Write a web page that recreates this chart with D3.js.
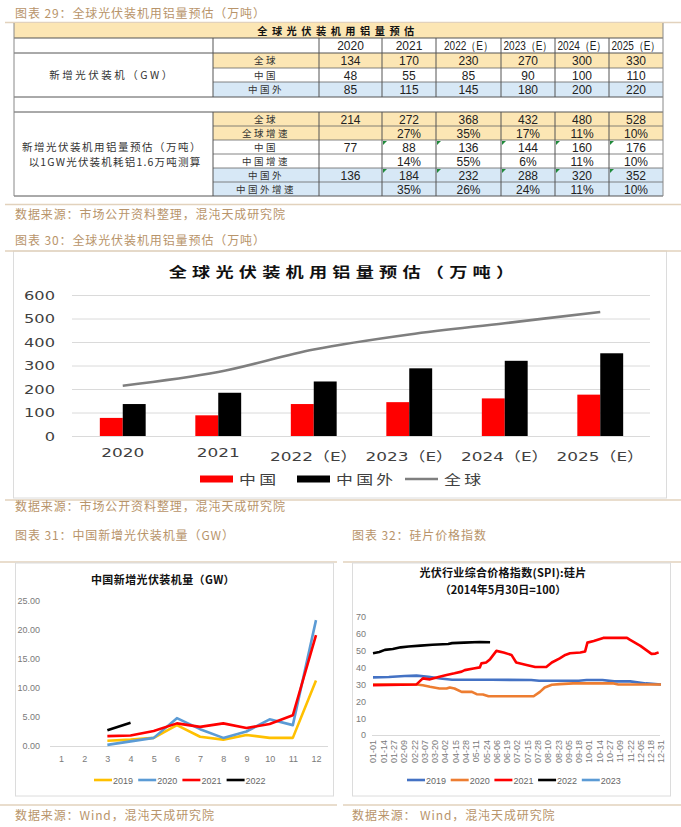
<!DOCTYPE html>
<html><head><meta charset="utf-8">
<script src="https://cdn.jsdelivr.net/npm/d3@7"></script>
<style>body{margin:0;background:#fff}svg{display:block}</style>
</head><body><svg id="c" width="681" height="827"></svg>
<script>
// ---------------- DATA ----------------
const years = ["2020","2021","2022（E）","2023（E）","2024（E）","2025（E）"];
const gwGlobal = [134,170,230,270,300,330];
const gwChina = [48,55,85,90,100,110];
const gwOutside = [85,115,145,180,200,220];
const alGlobal = [214,272,368,432,480,528];
const alGlobalGrowth = ["","27%","35%","17%","11%","10%"];
const alChina = [77,88,136,144,160,176];
const alChinaGrowth = ["","14%","55%","6%","11%","10%"];
const alOutside = [136,184,232,288,320,352];
const alOutsideGrowth = ["","35%","26%","24%","11%","10%"];
const yTicks30 = [0,100,200,300,400,500,600];

const months = [1,2,3,4,5,6,7,8,9,10,11,12];
const inst2019 = [null,null,0.9,1.1,1.4,3.6,1.6,1.1,1.9,1.4,1.4,11.3];
const inst2020 = [null,null,0.2,0.8,1.4,4.8,2.9,1.4,2.5,4.6,3.6,21.7];
const inst2021 = [null,null,1.7,1.8,2.6,3.9,3.3,3.9,3.1,3.8,5.3,19.1];
const inst2022 = [null,null,2.7,4.0,null,null,null,null,null,null,null,null];
const yTicks31 = [0,5,10,15,20,25];

const spiTickLabels = ["01-01","01-14","01-27","02-09","02-22","03-07","03-20","04-02","04-15","04-28","05-11","05-24","06-06","06-19","07-02","07-15","07-28","08-10","08-23","09-05","09-18","10-01","10-14","10-27","11-09","11-22","12-05","12-18","12-31"];
const spiTickDays = [0,13,26,39,52,65,78,91,104,117,130,143,156,169,182,195,208,221,234,247,260,273,286,299,312,325,338,351,364];
// [day of year, index]
const spi2019 = [[0,34.2],[20,34.4],[40,35],[55,35.2],[70,34.6],[85,33.5],[100,32.8],[150,32.8],[200,32.6],[210,32.2],[260,32.2],[270,32.6],[290,32.6],[305,31.8],[325,31.8],[345,30.6],[364,30]];
const spi2020 = [[0,30],[55,30],[63,29.5],[72,28.6],[84,27.6],[93,27.6],[97,28.2],[103,27.6],[112,25.6],[125,25.6],[131,24.2],[139,24],[146,23],[203,23],[211,25.6],[217,28.2],[226,29.8],[236,30.2],[253,30.6],[304,30.6],[310,30],[364,30]];
const spi2021 = [[0,29.6],[55,30],[63,33.6],[72,33],[84,34.6],[93,35.6],[103,36.6],[112,37.6],[116,38.5],[127,39.5],[135,40.1],[137,42.5],[143,43],[148,45],[156,49.9],[165,48.9],[175,47.5],[181,43],[194,41.5],[205,40.3],[219,40.3],[226,43],[236,45.5],[243,47.5],[249,48.5],[262,48.9],[268,49.5],[271,54.8],[279,55.8],[291,57.6],[321,57.6],[325,56.4],[338,52.9],[352,48.1],[357,48.3],[361,49]];
const spi2022 = [[0,48.5],[8,49.2],[15,50.5],[25,51],[35,52],[45,52.5],[60,53],[75,53.5],[95,54],[100,54.5],[115,54.8],[135,55.2],[148,55]];
const spi2023 = [];
const yTicks32 = [0,10,20,30,40,50,60,70];

// ---------------- STYLE ----------------
const svg = d3.select("#c");
const CJK = "'Noto Sans CJK SC', sans-serif";
const LAT = "'Liberation Sans', Arial, sans-serif";
const TAN = "#b8946a", TANLINE = "#e2d2bd";
const YEL = "#fce6b4", BLUE = "#d7e8f6";
svg.append("rect").attr("width",681).attr("height",827).attr("fill","#fff");

function caption(x,y,t){
  svg.append("text").attr("x",x).attr("y",y).attr("font-family",CJK).attr("font-size",12)
    .attr("letter-spacing",0.9).attr("fill",TAN).text(t);
}
function hline(x1,x2,y,c,w){
  svg.append("line").attr("x1",x1).attr("x2",x2).attr("y1",y).attr("y2",y).attr("stroke",c).attr("stroke-width",w||1);
}

// ================= FIGURE 29 : TABLE =================
caption(15,18,"图表 29：全球光伏装机用铝量预估（万吨）");
hline(5,681,22.5,TANLINE,1.5);

const colX=[14,213,319,382,436,501,555,609,663];
const T = svg.append("g");
const rowsY1=[53,68,82,97];
const rowsY2=[112,126,140,154,168,182,196];
T.append("rect").attr("x",14).attr("y",23).attr("width",649).attr("height",15).attr("fill",YEL);
const block1=[{name:"全球",vals:gwGlobal,fill:YEL},{name:"中国",vals:gwChina,fill:"#fff"},{name:"中国外",vals:gwOutside,fill:BLUE}];
const block2=[{name:"全球",vals:alGlobal,fill:YEL},{name:"全球增速",vals:alGlobalGrowth,fill:YEL},
  {name:"中国",vals:alChina,fill:"#fff",tri:true},{name:"中国增速",vals:alChinaGrowth,fill:"#fff"},
  {name:"中国外",vals:alOutside,fill:BLUE,tri:true},{name:"中国外增速",vals:alOutsideGrowth,fill:BLUE}];
function drawRows(block,ys){
  block.forEach((r,i)=>{
    const y0=ys[i], y1=ys[i+1];
    T.append("rect").attr("x",213).attr("y",y0).attr("width",450).attr("height",y1-y0).attr("fill",r.fill);
    T.append("text").attr("x",266).attr("y",(y0+y1)/2+3.5).attr("text-anchor","middle")
      .attr("font-family",CJK).attr("font-size",9.5).attr("letter-spacing",2.5).attr("fill","#333").text(r.name);
    r.vals.forEach((v,j)=>{
      const cx=(colX[j+2]+colX[j+3])/2;
      T.append("text").attr("x",cx).attr("y",(y0+y1)/2+4.5).attr("text-anchor","middle")
        .attr("font-family",LAT).attr("font-size",12).attr("fill","#222").text(v);
      if(r.tri && j>0){
        const x=colX[j+2]+1, y=y0+1;
        T.append("path").attr("d",`M${x},${y}L${x+4},${y}L${x},${y+4}Z`).attr("fill","#1f8a3a");
      }
    });
    if(i>0) T.append("line").attr("x1",213).attr("x2",663).attr("y1",y0).attr("y2",y0).attr("stroke","#666").attr("stroke-width",0.8);
  });
}
drawRows(block1,rowsY1);
drawRows(block2,rowsY2);
T.append("text").attr("x",338).attr("y",34.5).attr("text-anchor","middle").attr("font-family",CJK)
  .attr("font-weight","bold").attr("font-size",10.2).attr("letter-spacing",4.5).attr("fill","#111").text("全球光伏装机用铝量预估");
years.forEach((y,j)=>{
  const w = colX[j+3]-colX[j+2];
  const t = T.append("text").attr("x",(colX[j+2]+colX[j+3])/2).attr("y",50).attr("text-anchor","middle")
    .attr("font-family",LAT).attr("font-size",12).attr("fill","#222").text(y);
  if(y.length>4) t.attr("textLength",Math.min(49,w-4)).attr("lengthAdjust","spacingAndGlyphs");
});
T.append("text").attr("x",112).attr("y",79).attr("text-anchor","middle").attr("font-family",CJK)
  .attr("font-size",10.5).attr("letter-spacing",2.5).attr("fill","#333").text("新增光伏装机（GW）");
T.append("text").attr("x",112).attr("y",151).attr("text-anchor","middle").attr("font-family",CJK)
  .attr("font-size",10.5).attr("letter-spacing",1.5).attr("fill","#333").text("新增光伏装机用铝量预估（万吨）");
T.append("text").attr("x",115).attr("y",166).attr("text-anchor","middle").attr("font-family",CJK)
  .attr("font-size",10.5).attr("letter-spacing",1.2).attr("fill","#333").text("以1GW光伏装机耗铝1.6万吨测算");
[38,53,97,112,196].forEach(y=>T.append("line").attr("x1",14).attr("x2",663).attr("y1",y).attr("y2",y).attr("stroke","#555").attr("stroke-width",1));
colX.slice(1,8).forEach(x=>{
  T.append("line").attr("x1",x).attr("x2",x).attr("y1",38).attr("y2",97).attr("stroke","#555");
  T.append("line").attr("x1",x).attr("x2",x).attr("y1",112).attr("y2",196).attr("stroke","#555");
});
[14,663].forEach(x=>T.append("line").attr("x1",x).attr("x2",x).attr("y1",23).attr("y2",196).attr("stroke","#888"));
hline(5,681,204.5,TANLINE,1.5);
caption(15,219,"数据来源：市场公开资料整理，混沌天成研究院");

// ================= FIGURE 30 : BAR + LINE =================
caption(15,245,"图表 30：全球光伏装机用铝量预估（万吨）");
svg.append("rect").attr("x",13.5).attr("y",251).attr("width",653).attr("height",247).attr("fill","none").attr("stroke","#dcdcdc");
hline(5,681,251,TANLINE,1.5);
const SX=1.3;
const g30=svg.append("g");
const x0=d3.scaleBand().domain(years).range([75,648]).paddingInner(0.52).paddingOuter(0.26);
const x1=d3.scaleBand().domain(["中国","中国外"]).range([0,x0.bandwidth()]);
const y30=d3.scaleLinear().domain([0,600]).range([436,295]);
const ya=g30.append("g").attr("transform","translate(72,0)")
  .call(d3.axisLeft(y30).tickValues(yTicks30).tickSize(-578).tickPadding(0));
ya.select(".domain").remove();
ya.selectAll(".tick line").attr("stroke","#dadada").attr("stroke-width",1);
ya.selectAll(".tick text").attr("x",0).attr("transform",`translate(-17,0) scale(${SX},1)`)
  .attr("font-family","'DejaVu Sans', sans-serif").attr("font-size",12.5).attr("fill","#404040");
g30.selectAll("rect.cn").data(years).join("rect").attr("x",d=>x0(d)+x1("中国")).attr("width",x1.bandwidth())
  .attr("y",(d,i)=>y30(alChina[i])).attr("height",(d,i)=>y30(0)-y30(alChina[i])).attr("fill","#ff0000");
g30.selectAll("rect.out").data(years).join("rect").attr("x",d=>x0(d)+x1("中国外")).attr("width",x1.bandwidth())
  .attr("y",(d,i)=>y30(alOutside[i])).attr("height",(d,i)=>y30(0)-y30(alOutside[i])).attr("fill","#000");
const cx30=d=>x0(d)+x0.bandwidth()/2;
g30.append("path").datum(years).attr("fill","none").attr("stroke","#7f7f7f").attr("stroke-width",2.6)
  .attr("d",d3.line().x(d=>cx30(d)).y((d,i)=>y30(alGlobal[i])).curve(d3.curveCatmullRom.alpha(0.5)));
const xa=g30.append("g").attr("transform","translate(0,436)").call(d3.axisBottom(x0).tickSize(0).tickPadding(0));
xa.select(".domain").remove();
xa.selectAll(".tick text").attr("y",0).attr("dy",0)
  .attr("transform",d=>`translate(0,${d.length>4?25:21}) scale(${SX},1)`)
  .attr("font-family","'DejaVu Sans', 'Noto Sans CJK SC', sans-serif").attr("font-size",13).attr("fill","#404040");
const leg30=[{t:"中国",c:"#ff0000",w:7,x:200},{t:"中国外",c:"#000",w:7,x:297},{t:"全球",c:"#7f7f7f",w:2.6,x:405}];
leg30.forEach(l=>{
  g30.append("line").attr("x1",l.x).attr("x2",l.x+33).attr("y1",479).attr("y2",479).attr("stroke",l.c).attr("stroke-width",l.w);
  g30.append("text").attr("transform",`translate(${l.x+39},484) scale(${SX},1)`).attr("font-family",CJK)
    .attr("font-size",13).attr("letter-spacing",2.5).attr("fill","#404040").text(l.t);
});
g30.append("text").attr("transform",`translate(344,277) scale(${SX},1)`).attr("text-anchor","middle")
  .attr("font-family",CJK).attr("font-weight","bold").attr("font-size",14).attr("letter-spacing",4)
  .attr("fill","#111").text("全球光伏装机用铝量预估（万吨）");
hline(5,681,500,TANLINE,1.5);
caption(15,511,"数据来源：市场公开资料整理，混沌天成研究院");

// ================= FIGURE 31 =================
caption(15,540,"图表 31：中国新增光伏装机量（GW）");
caption(352,540,"图表 32：硅片价格指数");
hline(0,337,562,TANLINE,1.5);
hline(343,681,562,TANLINE,1.5);
svg.append("rect").attr("x",15.5).attr("y",563).attr("width",318).attr("height",233).attr("fill","none").attr("stroke","#dcdcdc");
svg.append("rect").attr("x",352.5).attr("y",563).attr("width",318).attr("height",233).attr("fill","none").attr("stroke","#dcdcdc");

const g31=svg.append("g");
g31.append("text").attr("x",163).attr("y",584).attr("text-anchor","middle").attr("font-family",CJK)
  .attr("font-weight","bold").attr("font-size",11).attr("letter-spacing",0.4).attr("fill","#111").text("中国新增光伏装机量（GW）");
const x31=d3.scalePoint().domain(months).range([61,316]);
const y31=d3.scaleLinear().domain([0,25]).range([746,601]);
const ya31=g31.append("g").attr("transform","translate(40,0)").call(d3.axisLeft(y31).tickValues(yTicks31).tickSize(0).tickPadding(0).tickFormat(d3.format(".2f")));
ya31.select(".domain").remove();
ya31.selectAll("text").attr("font-family",LAT).attr("font-size",9).attr("fill","#7a7a7a");
const xa31=g31.append("g").attr("transform","translate(0,746)").call(d3.axisBottom(x31).tickSize(0).tickPadding(10));
xa31.select(".domain").attr("d","M50,0.5H328").attr("stroke","#d9d9d9");
xa31.selectAll("text").attr("font-family",LAT).attr("font-size",9).attr("fill","#7a7a7a");
const s31=[{n:"2019",v:inst2019,c:"#ffc000"},{n:"2020",v:inst2020,c:"#5b9bd5"},{n:"2021",v:inst2021,c:"#ff0000"},{n:"2022",v:inst2022,c:"#000"}];
const line31=d3.line().defined(d=>d[1]!=null).x(d=>x31(d[0])).y(d=>y31(d[1]));
s31.forEach((s,k)=>{
  g31.append("path").datum(months.map((m,i)=>[m,s.v[i]])).attr("fill","none").attr("stroke",s.c)
    .attr("stroke-width",2.6).attr("stroke-linejoin","round").attr("d",line31);
  const lx=94+k*44.2;
  g31.append("line").attr("x1",lx).attr("x2",lx+18).attr("y1",780).attr("y2",780).attr("stroke",s.c).attr("stroke-width",2.6);
  g31.append("text").attr("x",lx+19).attr("y",783.5).attr("font-family",LAT).attr("font-size",9).attr("fill","#666").text(s.n);
});
hline(0,337,805,TANLINE,1.5);
caption(15,820,"数据来源：Wind，混沌天成研究院");

// ================= FIGURE 32 =================
const g32=svg.append("g");
g32.append("text").attr("x",503).attr("y",577).attr("text-anchor","middle").attr("font-family",CJK)
  .attr("font-weight","bold").attr("font-size",11).attr("letter-spacing",0.3).attr("fill","#111").text("光伏行业综合价格指数(SPI):硅片");
g32.append("text").attr("x",503).attr("y",594).attr("text-anchor","middle").attr("font-family",CJK)
  .attr("font-weight","bold").attr("font-size",11).attr("fill","#111").text("（2014年5月30日=100）");
const x32=d3.scaleLinear().domain([0,364]).range([373,661]);
const y32=d3.scaleLinear().domain([0,70]).range([735,617]);
const ya32=g32.append("g").attr("transform","translate(366,0)").call(d3.axisLeft(y32).tickValues(yTicks32).tickSize(0).tickPadding(0));
ya32.select(".domain").remove();
ya32.selectAll("text").attr("font-family",LAT).attr("font-size",9).attr("fill","#7a7a7a");
const xa32=g32.append("g").attr("transform","translate(0,735)")
  .call(d3.axisBottom(x32).tickValues(spiTickDays).tickSize(0).tickFormat((d,i)=>spiTickLabels[i]));
xa32.select(".domain").attr("d","M372,0.5H660").attr("stroke","#d9d9d9");
xa32.selectAll("text").attr("y",0).attr("x",-5).attr("dy","0.32em").attr("transform","rotate(-90)")
  .style("text-anchor","end").attr("font-family",LAT).attr("font-size",9).attr("fill","#7a7a7a");
const s32=[{n:"2019",v:spi2019,c:"#4472c4"},{n:"2020",v:spi2020,c:"#ed7d31"},{n:"2021",v:spi2021,c:"#ff0000"},{n:"2022",v:spi2022,c:"#000"},{n:"2023",v:spi2023,c:"#5b9bd5"}];
const line32=d3.line().x(d=>x32(d[0])).y(d=>y32(d[1]));
s32.forEach((s,k)=>{
  if(s.v.length) g32.append("path").datum(s.v).attr("fill","none").attr("stroke",s.c)
    .attr("stroke-width",2.6).attr("stroke-linejoin","round").attr("d",line32);
  const lx=407+k*43.7;
  g32.append("line").attr("x1",lx).attr("x2",lx+18).attr("y1",780).attr("y2",780).attr("stroke",s.c).attr("stroke-width",2.6);
  g32.append("text").attr("x",lx+19).attr("y",783.5).attr("font-family",LAT).attr("font-size",9).attr("fill","#666").text(s.n);
});
hline(343,681,805,TANLINE,1.5);
caption(352,820,"数据来源：  Wind，混沌天成研究院");
</script></body></html>
